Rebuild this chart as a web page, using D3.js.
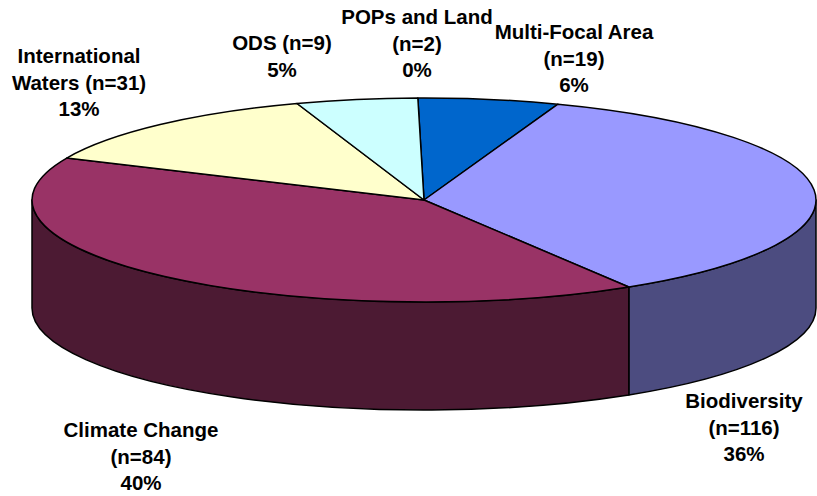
<!DOCTYPE html>
<html>
<head>
<meta charset="utf-8">
<script src="https://cdn.jsdelivr.net/npm/d3@7"></script>
<style>
  html, body { margin: 0; padding: 0; background: #ffffff; }
  svg { display: block; }
  text { font-family: Arial, "Liberation Sans", Helvetica, sans-serif; font-weight: bold; fill: #000; }
</style>
</head>
<body>
<svg id="chart" width="817" height="496"></svg>
<script>
// ---- data (clockwise from 12 o'clock) ----
const categories = ["POPs and Land", "Multi-Focal Area", "Biodiversity", "Climate Change", "International Waters", "ODS"];
const counts = [2, 19, 116, 84, 31, 9];
const shares = [0, 5.8, 35.7, 40.5, 13.0, 5.0];
const percentLabels = ["0%", "6%", "36%", "40%", "13%", "5%"];
const topColors = ["#660066", "#0066CC", "#9999FF", "#993366", "#FFFFCC", "#CCFFFF"];
const sideColors = ["#330033", "#003366", "#4C4C80", "#4C1A33", "#80801A", "#668080"];

// ---- layout ----
const W = 817, H = 496;
const cx = 424, cy = 200, rx = 392, ry = 102, depth = 108;
const startDeg = -0.9;
const fontSize = 20.5, lineH = 26.7;
// label anchors: [centre x, first baseline y], and how each label wraps
const labelLayout = {
  "POPs and Land":        { x: 417, y: 24,  lines: d => [d.cat, "(n=" + d.n + ")", d.pct] },
  "Multi-Focal Area":     { x: 574, y: 39,  lines: d => [d.cat, "(n=" + d.n + ")", d.pct] },
  "Biodiversity":         { x: 744, y: 408, lines: d => [d.cat, "(n=" + d.n + ")", d.pct] },
  "Climate Change":       { x: 141, y: 437, lines: d => [d.cat, "(n=" + d.n + ")", d.pct] },
  "International Waters": { x: 79,  y: 63,  lines: d => ["International", "Waters (n=" + d.n + ")", d.pct] },
  "ODS":                  { x: 282, y: 50,  lines: d => [d.cat + " (n=" + d.n + ")", d.pct] }
};

const rows = categories.map((c, i) => ({ cat: c, n: counts[i], v: shares[i], pct: percentLabels[i], top: topColors[i], side: sideColors[i] }));

const svg = d3.select("#chart");
const start = startDeg * Math.PI / 180;
const pie = d3.pie().sort(null).value(d => d.v).startAngle(start).endAngle(start + 2 * Math.PI);
const arcs = pie(rows);

// projection of a pie angle onto the tilted ellipse
const px = a => cx + rx * Math.sin(a);
const py = (a, dz = 0) => cy - ry * Math.cos(a) + dz;
const f = v => v.toFixed(2);

// ---- side walls (front half only: angles between 90° and 270°) ----
const lo = Math.PI / 2, hi = 3 * Math.PI / 2;
const sideG = svg.append("g");
arcs.forEach(a => {
  const a0 = a.startAngle, a1 = a.endAngle;
  const segs = [];
  [0, 2 * Math.PI, -2 * Math.PI].forEach(sh => {
    const s0 = Math.max(a0 + sh, lo), s1 = Math.min(a1 + sh, hi);
    if (s1 > s0 + 1e-6) segs.push([s0, s1]);
  });
  segs.forEach(([s0, s1]) => {
    const large = (s1 - s0) > Math.PI ? 1 : 0;
    const d = `M${f(px(s0))},${f(py(s0))}` +
      `A${rx},${ry} 0 ${large} 1 ${f(px(s1))},${f(py(s1))}` +
      `L${f(px(s1))},${f(py(s1, depth))}` +
      `A${rx},${ry} 0 ${large} 0 ${f(px(s0))},${f(py(s0, depth))}Z`;
    sideG.append("path")
      .attr("d", d)
      .attr("fill", a.data.side)
      .attr("stroke", "#000")
      .attr("stroke-width", 1.5)
      .attr("stroke-linejoin", "round");
  });
});

// ---- top faces ----
const topG = svg.append("g");
arcs.forEach(a => {
  const a0 = a.startAngle, a1 = a.endAngle;
  const large = (a1 - a0) > Math.PI ? 1 : 0;
  const d = (a1 - a0) < 1e-9
    ? `M${cx},${cy}L${f(px(a0))},${f(py(a0))}`
    : `M${cx},${cy}L${f(px(a0))},${f(py(a0))}` +
      `A${rx},${ry} 0 ${large} 1 ${f(px(a1))},${f(py(a1))}Z`;
  topG.append("path")
    .attr("d", d)
    .attr("fill", a.data.top)
    .attr("stroke", "#000")
    .attr("stroke-width", 1.5)
    .attr("stroke-linejoin", "round");
});

// ---- labels ----
const labG = svg.append("g");
rows.forEach(d => {
  const L = labelLayout[d.cat];
  const t = labG.append("text")
    .attr("text-anchor", "middle")
    .attr("font-size", fontSize);
  L.lines(d).forEach((s, i) => {
    t.append("tspan").attr("x", L.x).attr("y", L.y + i * lineH).text(s);
  });
});
</script>
</body>
</html>
